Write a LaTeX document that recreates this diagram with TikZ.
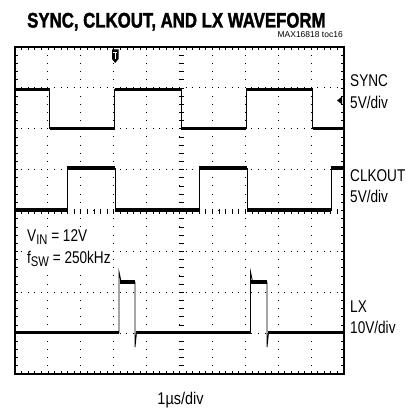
\documentclass[tikz,border=0pt]{standalone}
\usepackage{fontspec}
\setmainfont{Liberation Sans}
\newfontfamily\titlefont{Liberation Sans}[BoldFeatures={FakeBold=2}]
\usepackage{tikz}

\newcommand{\narrow}[1]{\scalebox{0.8}[1]{#1}}
\newcommand{\lowsub}[1]{\raisebox{-3.5pt}{\fontsize{14}{14}\selectfont #1}}

\begin{document}
\begin{tikzpicture}[
   x=1pt,y=-1pt,
   font=\fontsize{17}{17}\selectfont,
   txt/.style={inner sep=0pt,anchor=base west},
   frame/.style={line width=2.2pt},
   hdots/.style={line width=1pt,dash pattern=on 1pt off 5.58pt,dash phase=0.5pt},
   vdots/.style={line width=1pt,dash pattern=on 1pt off 7.175pt,dash phase=0.5pt},
   tick/.style={line width=0.7pt},
   edge/.style={line width=0.9pt},
   lvl/.style={line width=3.8pt}]
\useasboundingbox (0,0) rectangle (417,409);

% graticule
\foreach \i in {1,...,9}
  \draw[vdots] ({15+\i*32.9},47) -- ({15+\i*32.9},374);
\foreach \j in {1,...,7}
  \draw[hdots] (15,{47+\j*40.875}) -- (344,{47+\j*40.875});
\foreach \k in {1,...,49} {
  \draw[tick] ({15+\k*6.58},208.5) -- ++(0,5);
  \draw[tick] ({15+\k*6.58},47) -- ++(0,3);
  \draw[tick] ({15+\k*6.58},374) -- ++(0,-3);
}
\foreach \k in {1,...,39} {
  \draw[tick] (178.5,{47+\k*8.175}) -- ++(5,0);
  \draw[tick] (15,{47+\k*8.175}) -- ++(3,0);
  \draw[tick] (344,{47+\k*8.175}) -- ++(-3,0);
}
\draw[frame] (15,47) rectangle (344,374);

% trigger marks
\fill (112,49.5) -- (118.5,49.5) -- (118.5,59) -- (115.25,63) -- (112,59) -- cycle;
\draw[white,line width=1pt] (113.3,52.5) -- (117.2,52.5) (115.25,52.5) -- (115.25,59.5);
\fill (337,100.5) -- (342,96.5) -- (342,104.5) -- cycle;

% SYNC
\draw[edge] (16,89.5) -| (49.5,128.5) -| (114.5,89.5) -| (181,128.5) -| (246,89.5) -| (312.6,128.5) -- (343,128.5);
\foreach \a/\b/\y in {16/49.5/89.5, 49.5/114.5/128.5, 114.5/181/89.5, 181/246/128.5, 246/312.6/89.5, 312.6/343/128.5}
  \draw[lvl] (\a,\y) -- (\b,\y);

% CLKOUT
\draw[edge] (16,210) -| (67,168) -| (115,210) -| (199,168) -| (247,210) -| (331,168) -- (343,168);
\foreach \a/\b/\y in {16/67/210, 67/115/168, 115/199/210, 199/247/168, 247/331/210, 331/343/168}
  \draw[lvl] (\a,\y) -- (\b,\y);

% LX
\draw[edge] (16,332.5) -- (119,332.5) -- (119,272) -- (121,281.5) -- (135,282) -- (135,347) -- (136.5,332.5)
  -- (250.5,332.5) -- (250.5,272) -- (252.5,281.5) -- (267,282) -- (267,347) -- (268.5,332.5) -- (343,332.5);
\foreach \a/\b/\y in {16/119/332.5, 119.5/134.5/282, 136/250.5/332.5, 251/266.5/282, 268/343/332.5}
  \draw[lvl] (\a,\y) -- (\b,\y);

% texts
\node[txt] (title) at (27,27.5) {\fontsize{21}{21}\titlefont\bfseries\scalebox{0.8}[1]{SYNC, CLKOUT, AND LX WAVEFORM}};
\node[txt,anchor=base east] (toc) at (343,38) {\fontsize{8.5}{8.5}\selectfont MAX16818 toc16};
\node[txt] (sync) at (350,87) {\narrow{SYNC}};
\node[txt] (syncdiv) at (350,108) {\narrow{5V/div}};
\node[txt] (clk) at (350,181) {\narrow{CLKOUT}};
\node[txt] (clkdiv) at (350,202) {\narrow{5V/div}};
\node[txt] (lx) at (350,312) {\narrow{LX}};
\node[txt] (lxdiv) at (350,333) {\narrow{10V/div}};
\node[txt,fill=white,inner sep=2pt] (vin) at (25,241) {\narrow{V\lowsub{IN} = 12V}};
\node[txt,fill=white,inner sep=2pt] (fsw) at (25,263) {\narrow{f\lowsub{SW} = 250kHz}};
\node[txt,anchor=base] (time) at (180.5,404) {\scalebox{0.85}[1]{1µs/div}};
\end{tikzpicture}
\end{document}
